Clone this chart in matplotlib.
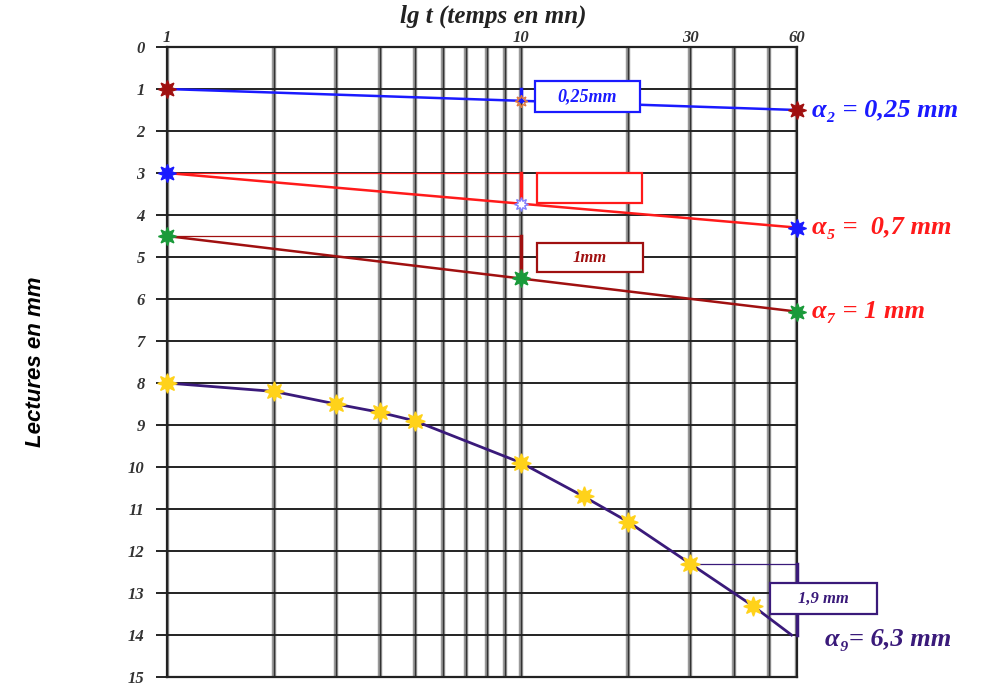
import matplotlib
matplotlib.use("Agg")
import matplotlib.pyplot as plt
from matplotlib.patches import Rectangle
import numpy as np

# ---- data ----
t_grid = [1, 2, 3, 4, 5, 6, 7, 8, 9, 10, 20, 30, 40, 50, 60]
top_ticks = [1, 10, 30, 60]
top_labels = ["1", "10", "30", "60"]
y_ticks = list(range(0, 16))

a2_t = [1, 60]
a2_y = [1.0, 1.5]
a5_t = [1, 60]
a5_y = [3.0, 4.3]
a7_t = [1, 60]
a7_y = [4.5, 6.3]
a7_mid_t = [10]
a7_mid_y = [5.5]
a9_t = [1, 2, 3, 4, 5, 10, 15, 20, 30, 45]
a9_y = [8.0, 8.2, 8.5, 8.7, 8.9, 9.9, 10.7, 11.3, 12.3, 13.3]
a9_end_t = 58
a9_end_y = 14.0

lbl_a2 = "α₂ = 0,25 mm"
lbl_a5 = "α₅ =  0,7 mm"
lbl_a7 = "α₇ = 1 mm"
lbl_a9 = "α₉= 6,3 mm"

BLUE = "#1a1aff"
RED = "#ff1a1a"
DRED = "#a01010"
PURPLE = "#3a1a7a"
GOLD = "#ffd21a"
GREEN = "#1a9a3a"

plt.rcParams['font.family'] = ['Liberation Serif', 'DejaVu Serif']
fig = plt.figure(figsize=(10.06, 6.86), dpi=100)
ax = fig.add_axes([0.166, 1 - 677 / 686, 0.626, 630 / 686])
ax.set_xscale('log')
ax.set_xlim(1, 60)
ax.set_ylim(15, 0)

# grid
for t in t_grid:
    ax.axvline(t, color='#9a9a9a', lw=3.2, zorder=1)
    ax.axvline(t, color='#333333', lw=1.0, zorder=1)
for y in y_ticks:
    ax.axhline(y, color='#222222', lw=1.4, zorder=1)

for s in ax.spines.values():
    s.set_linewidth(1.6)
    s.set_color('#222222')

ax.xaxis.set_ticks_position('top')
ax.set_xticks(top_ticks)
ax.set_xticklabels(top_labels, fontsize=12, fontweight='bold', style='italic', color='#333333')
ax.xaxis.set_minor_locator(matplotlib.ticker.NullLocator())
ax.tick_params(axis='x', length=0, pad=1)
ax.set_yticks(y_ticks)
ax.set_yticklabels([str(v) for v in y_ticks], fontsize=12, fontweight='bold', style='italic', color='#333333')
ax.tick_params(axis='y', length=8, width=1.2, pad=8)
fig.text(0.49, 1 - 16 / 686, "lg t (temps en mn)", fontsize=18, fontweight='bold', style='italic',
         ha='center', va='center', color='#222222')
fig.text(0.035, 1 - 362 / 686, "Lectures en mm", rotation=90, fontsize=16, fontweight='bold',
         style='italic', ha='center', va='center',
         family=['Liberation Sans Narrow', 'Liberation Sans', 'DejaVu Sans'])

star = (8, 1, 0)

# series alpha2
ax.plot(a2_t, a2_y, color=BLUE, lw=1.8, zorder=3)
ax.plot(a2_t, a2_y, ls='none', marker=star, ms=13, color=DRED, zorder=5, clip_on=False)
# alpha5
ax.plot(a5_t, a5_y, color=RED, lw=1.8, zorder=3)
ax.plot(a5_t, a5_y, ls='none', marker=star, ms=13, color=BLUE, zorder=5, clip_on=False)
# alpha7
ax.plot(a7_t, a7_y, color=DRED, lw=1.8, zorder=3)
ax.plot(a7_t + a7_mid_t, a7_y + a7_mid_y, ls='none', marker=star, ms=13, color=GREEN, zorder=5, clip_on=False)
# alpha9
ax.plot(a9_t + [a9_end_t], a9_y + [a9_end_y], color=PURPLE, lw=2.0, zorder=3)
ax.plot(a9_t, a9_y, ls='none', marker=star, ms=14, color=GOLD, zorder=5, clip_on=False)

# annotation guides
y10_a2 = a2_y[0] + (a2_y[1] - a2_y[0]) * np.log10(10) / np.log10(60)
y10_a5 = a5_y[0] + (a5_y[1] - a5_y[0]) * np.log10(10) / np.log10(60)
ax.plot([10, 10], [a2_y[0], y10_a2], color=BLUE, lw=2.5, zorder=4)
ax.plot([10], [y10_a2], marker=star, ms=9, color='#e07a40', zorder=4, mfc='none')
ax.plot([1, 10], [a5_y[0], a5_y[0]], color=RED, lw=0.9, zorder=3)
ax.plot([10, 10], [a5_y[0], y10_a5], color=RED, lw=2.5, zorder=4)
ax.plot([10], [y10_a5], marker=star, ms=10, color='#8080ff', zorder=4, mfc='white')
ax.plot([1, 10], [a7_y[0], a7_y[0]], color=DRED, lw=0.9, zorder=3)
ax.plot([10, 10], [a7_y[0], a7_mid_y[0]], color=DRED, lw=2.5, zorder=4)
ax.plot([30, 60], [a9_y[8], a9_y[8]], color=PURPLE, lw=0.9, zorder=3, clip_on=False)
ax.plot([60, 60], [a9_y[8], a9_end_y], color=PURPLE, lw=2.5, zorder=4, clip_on=False)

# boxes (figure coordinates)
def fbox(x0, y0, x1, y1, ec, text=None, tc=None, fs=12):
    W, H = 1006.0, 686.0
    r = Rectangle((x0 / W, 1 - y1 / H), (x1 - x0) / W, (y1 - y0) / H, transform=fig.transFigure,
                  fc='white', ec=ec, lw=1.6, zorder=10)
    fig.add_artist(r)
    if text:
        fig.text((x0 + x1) / 2 / W, 1 - (y0 + y1) / 2 / H, text, ha='center', va='center',
                 color=tc, fontsize=fs, fontweight='bold', style='italic', zorder=11)

fbox(535, 81, 640, 112, BLUE, "0,25mm", BLUE, 13)
fbox(537, 173, 642, 203, RED)
fbox(537, 243, 643, 272, DRED, "1mm", DRED, 12)
fbox(770, 583, 877, 614, PURPLE, "1,9 mm", PURPLE, 12)

# right labels
kw = dict(fontsize=19, fontweight='bold', style='italic', va='center', ha='left',
          transform=ax.get_yaxis_transform(), clip_on=False)
ax.text(1.025, a2_y[1], lbl_a2, color=BLUE, **kw)
ax.text(1.025, a5_y[1], lbl_a5, color=RED, **kw)
ax.text(1.025, a7_y[1], lbl_a7, color=RED, **kw)
ax.text(1.045, a9_end_y + 0.1, lbl_a9, color=PURPLE, **kw)

fig.savefig("out.png", dpi=100)
